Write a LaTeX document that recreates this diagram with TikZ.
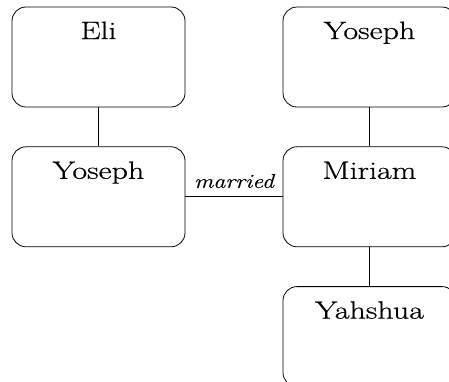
\documentclass[tikz,border=0pt]{standalone}
\usepackage{fontspec}
\setmainfont{Latin Modern Roman}
\usepackage{tikz}
\usetikzlibrary{positioning}

\begin{document}
\begin{tikzpicture}[x=1pt,y=1pt,line width=0.8pt,
    person/.style={draw,rounded corners=14pt,minimum width=173pt,
      inner ysep=8pt,text height=24pt,text depth=60pt,
      font=\fontsize{25}{30}\selectfont\addfontfeatures{FakeStretch=1.28,FakeBold=0.6}},
    rel/.style={font=\itshape\fontsize{20}{24}\selectfont\addfontfeatures{FakeStretch=1.2,FakeBold=0.4}}]
      \useasboundingbox (0,0) rectangle (449,-381);
      % Parents
      \node[person] (eli) at (98.5,-57) {Eli};
      \node[person] (yosephR) at (369.5,-57) {Yoseph};
      % Couple
      \node[person,below=39pt of eli] (yosephL) {Yoseph};
      \node[person,below=39pt of yosephR] (miriam) {Miriam};
      % Child
      \node[person,below=39pt of miriam] (yahshua) {Yahshua};
      % Links
      \draw (eli) -- (yosephL);
      \draw (yosephR) -- (miriam);
      \draw (yosephL) -- node[rel,above=5pt] {married} (miriam);
      \draw (miriam) -- (yahshua);
    \end{tikzpicture}
\end{document}
